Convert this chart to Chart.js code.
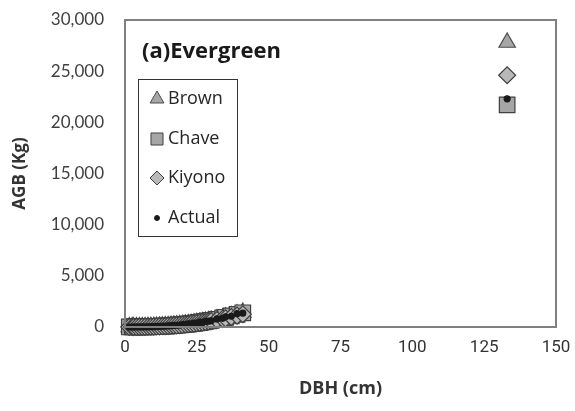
<!DOCTYPE html>
<html>
<head>
<meta charset="utf-8">
<script src="https://cdn.jsdelivr.net/npm/chart.js@4"></script>
<style>
  html, body { margin: 0; padding: 0; background: #fff; }
  #wrap { width: 575px; height: 411px; }
</style>
</head>
<body>
<div id="wrap"><canvas id="agbChart" width="575" height="411"></canvas></div>
<script>
// ---- data ----
const dbh = [1.5, 2.5, 3, 4, 5, 6, 7, 8, 9, 10, 11, 12, 13, 14, 15, 16, 17, 18, 19, 20,
  21, 22, 23, 24, 25, 26, 27, 28, 29, 30, 32, 34, 35, 37, 39, 41, 133];
const brown = [0.3, 1.2, 1.9, 4, 7, 11, 17, 23, 31, 40, 51, 64, 78, 94, 112, 132, 154, 178, 205, 233,
  263, 296, 331, 369, 409, 451, 496, 544, 594, 647, 760, 885, 951, 1092, 1245, 1410, 27800];
const chave = [0.5, 1.5, 2, 4, 7, 11, 16, 22, 30, 40, 50, 62, 76, 92, 110, 130, 150, 175, 200, 230,
  260, 290, 325, 360, 400, 440, 490, 540, 590, 640, 750, 880, 950, 1080, 1230, 1390, 21700];
const kiyono = [0.4, 1.3, 2, 4, 7, 11, 16, 22, 29, 38, 48, 60, 73, 88, 104, 122, 142, 164, 188, 214,
  242, 272, 303, 337, 373, 410, 450, 492, 537, 583, 683, 792, 850, 973, 1105, 1245, 24600];
const actual = [0.5, 1.4, 2.2, 3.5, 8, 10, 18, 20, 33, 36, 55, 58, 80, 85, 118, 125, 160, 170, 190, 245,
  250, 310, 300, 380, 390, 470, 460, 560, 570, 610, 790, 850, 1000, 1050, 1300, 1350, 22300];

const xTicks = [0, 25, 50, 75, 100, 125, 150];
const yTicks = [0, 5000, 10000, 15000, 20000, 25000, 30000];
const seriesNames = ["Brown", "Chave", "Kiyono", "Actual"];
const panelTitle = "(a)Evergreen";

function pts(values) {
  return dbh.map((d, i) => ({ x: d, y: values[i] }));
}

// marker looks shared by plot and legend
const markers = [
  { style: "triangle", fill: "#a6a6a6", stroke: "#4d4d4d", r: 9.5, lr: 8 },
  { style: "rect", fill: "#a6a6a6", stroke: "#404040", r: 11, lr: 8.5 },
  { style: "rectRot", fill: "#b8b8b8", stroke: "#404040", r: 8.5, lr: 7 },
  { style: "circle", fill: "#1a1a1a", stroke: "#1a1a1a", r: 3, lr: 2.5 }
];

// frame + in-plot title + legend box
const decoPlugin = {
  id: "deco",
  afterDraw(chart) {
    const { ctx, chartArea: a } = chart;
    ctx.save();
    ctx.strokeStyle = "#808080";
    ctx.lineWidth = 2;
    ctx.strokeRect(a.left, a.top, a.right - a.left, a.bottom - a.top);

    ctx.fillStyle = "#1a1a1a";
    ctx.font = "bold 22px 'Open Sans'";
    ctx.textBaseline = "middle";
    ctx.textAlign = "left";
    ctx.fillText(panelTitle, a.left + 17, a.top + 32);

    const bx = a.left + 13, by = a.top + 59;
    ctx.strokeStyle = "#333";
    ctx.lineWidth = 1;
    ctx.strokeRect(bx + 0.5, by + 0.5, 99, 157);

    const rowY = [20, 60, 99, 139];
    ctx.font = "18px 'Open Sans'";
    seriesNames.forEach((name, i) => {
      const m = markers[i];
      ctx.fillStyle = m.fill;
      ctx.strokeStyle = m.stroke;
      ctx.lineWidth = 1;
      Chart.helpers.drawPoint(ctx, { pointStyle: m.style, radius: m.lr, borderWidth: 1 }, bx + 19, by + rowY[i]);
      ctx.fillStyle = "#262626";
      ctx.fillText(name, bx + 30, by + rowY[i]);
    });
    ctx.restore();
  }
};

const datasets = seriesNames.map((name, i) => ({
  label: name,
  data: pts([brown, chave, kiyono, actual][i]),
  pointStyle: markers[i].style,
  pointRadius: markers[i].r,
  backgroundColor: markers[i].fill,
  borderColor: markers[i].stroke,
  borderWidth: 1.2,
  order: 3 - i,
  clip: false
}));

new Chart(document.getElementById("agbChart").getContext("2d"), {
  type: "scatter",
  data: { datasets },
  options: {
    responsive: false,
    animation: false,
    layout: { padding: { left: 6, right: 19, top: 20, bottom: 4 } },
    plugins: { legend: { display: false }, tooltip: { enabled: false } },
    scales: {
      x: {
        min: 0, max: 150,
        afterBuildTicks: s => { s.ticks = xTicks.map(v => ({ value: v })); },
        grid: { display: false, drawTicks: false },
        border: { display: false },
        ticks: { padding: 11, color: "#333", font: { family: "Roboto", size: 17 } },
        title: { display: true, text: "DBH (cm)", color: "#333", font: { family: "'Open Sans'", size: 18, weight: "bold" }, padding: { top: 6, bottom: 7 } },
        afterFit: s => { s.height = 80; s.paddingLeft = 0; s.paddingRight = 0; }
      },
      y: {
        min: 0, max: 30000,
        afterBuildTicks: s => { s.ticks = yTicks.map(v => ({ value: v })); },
        grid: { display: false, drawTicks: false },
        border: { display: false },
        ticks: {
          padding: 21, color: "#404040", font: { family: "Lato", size: 17 },
          callback: v => v.toLocaleString("en-US")
        },
        title: { display: true, text: "AGB (Kg)", color: "#333", font: { family: "'Open Sans'", size: 17, weight: "bold" }, padding: { bottom: 0 } },
        afterFit: s => { s.width = 119; s.paddingTop = 0; s.paddingBottom = 0; }
      }
    }
  },
  plugins: [decoPlugin]
});
</script>
</body>
</html>
